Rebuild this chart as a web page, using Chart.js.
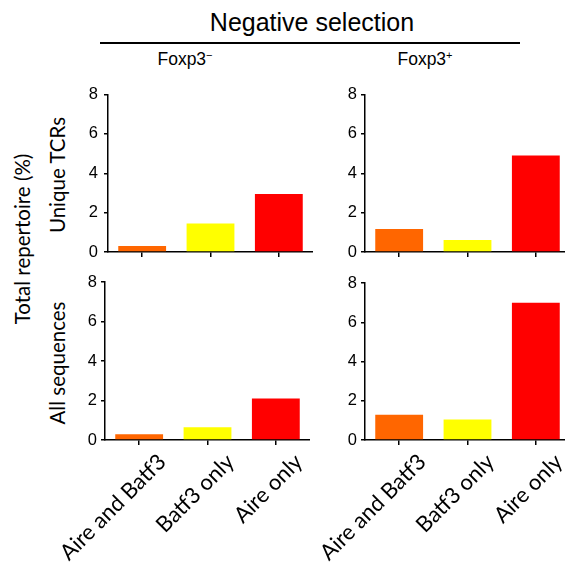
<!DOCTYPE html>
<html>
<head>
<meta charset="utf-8">
<script src="https://cdn.jsdelivr.net/npm/chart.js@4/dist/chart.umd.min.js"></script>
<style>
  html, body { margin: 0; padding: 0; background: #fff; overflow: hidden; }
  body { width: 565px; height: 573px; position: relative; }
  canvas { position: absolute; }
  .txt { position: absolute; color: #000; white-space: nowrap; line-height: 1; }
  .arial { font-family: "Liberation Sans", Arial, sans-serif; }
  .vert { position: absolute; width: 300px; height: 24px; line-height: 24px; text-align: center;
          font-family: Lato, "Open Sans", sans-serif; font-size: 20.5px; color: #000;
          transform: rotate(-90deg); }
  sup { font-size: 11px; vertical-align: 6px; line-height: 0; }
</style>
</head>
<body>

<div class="txt arial" style="left:0; width:624px; text-align:center; top:10px; font-size:25px;">Negative selection</div>
<div style="position:absolute; left:100px; top:42px; width:420px; height:1.5px; background:#000;"></div>
<div class="txt arial" style="left:85px; width:200px; text-align:center; top:51px; font-size:17.5px;">Foxp3<sup>&minus;</sup></div>
<div class="txt arial" style="left:325px; width:200px; text-align:center; top:51px; font-size:17.5px;">Foxp3<sup>+</sup></div>

<div class="vert" style="left:-128px; top:227px;">Total repertoire (%)</div>
<div class="vert" style="left:-93px; top:163px;">Unique TCRs</div>
<div class="vert" style="left:-93px; top:351px;">All sequences</div>

<canvas id="c1" width="253" height="178" style="left:60px; top:84px;"></canvas>
<canvas id="c2" width="253" height="178" style="left:317px; top:84px;"></canvas>
<canvas id="c3" width="253" height="301" style="left:57px; top:272px;"></canvas>
<canvas id="c4" width="253" height="301" style="left:317px; top:272px;"></canvas>

<script>
// categories and colours
var groups = ['Aire and Batf3', 'Batf3 only', 'Aire only'];
var barColors = ['#FF6600', '#FFFF00', '#FF0000'];
var yTicks = [0, 2, 4, 6, 8];

// % of total repertoire
var uniqueFoxp3Neg = [0.3, 1.45, 2.95];
var uniqueFoxp3Pos = [1.17, 0.61, 4.9];
var allSeqFoxp3Neg = [0.29, 0.64, 2.1];
var allSeqFoxp3Pos = [1.29, 1.05, 7.0];

function drawPanel(canvasId, values, showLabels, yPad, topPad) {
    var ctx = document.getElementById(canvasId).getContext('2d');
    return new Chart(ctx, {
        type: 'bar',
        data: {
            labels: groups,
            datasets: [{
                data: values,
                backgroundColor: barColors,
                borderWidth: 0,
                barPercentage: 0.7,
                categoryPercentage: 1.0
            }]
        },
        options: {
            responsive: false,
            animation: false,
            layout: { padding: { top: topPad, left: 0, right: 0, bottom: 0 } },
            plugins: { legend: { display: false }, tooltip: { enabled: false } },
            scales: {
                x: {
                    offset: true,
                    border: { color: '#000', width: 1.5 },
                    grid: { offset: false, drawOnChartArea: false, drawTicks: true, tickLength: 5, color: '#000', lineWidth: 1.5 },
                    ticks: {
                        display: showLabels,
                        autoSkip: false,
                        maxRotation: 45,
                        minRotation: 45,
                        labelOffset: 23,
                        padding: 4,
                        color: '#000',
                        font: { family: 'Lato, "Open Sans", sans-serif', size: 22 }
                    },
                    afterFit: function(scale) {
                        scale.height = showLabels ? 133 : 10;
                        scale.paddingLeft = 0;
                        scale.paddingRight = 0;
                    }
                },
                y: {
                    min: 0,
                    max: 8,
                    border: { color: '#000', width: 1.5 },
                    grid: { drawOnChartArea: false, drawTicks: true, tickLength: 4, color: '#000', lineWidth: 1.5 },
                    afterBuildTicks: function(scale) {
                        scale.ticks = yTicks.map(function(v) { return { value: v }; });
                    },
                    ticks: {
                        padding: yPad,
                        color: '#000',
                        font: { family: '"Liberation Sans", Arial, sans-serif', size: 16.5 }
                    },
                    afterFit: function(scale) {
                        scale.width = 48;
                        scale.paddingTop = 0;
                        scale.paddingBottom = 0;
                    }
                }
            }
        }
    });
}

drawPanel('c1', uniqueFoxp3Neg, false, 6, 10.5);
drawPanel('c2', uniqueFoxp3Pos, false, 4, 10.5);
drawPanel('c3', allSeqFoxp3Neg, true, 4, 10);
drawPanel('c4', allSeqFoxp3Pos, true, 4, 11);
</script>
</body>
</html>
